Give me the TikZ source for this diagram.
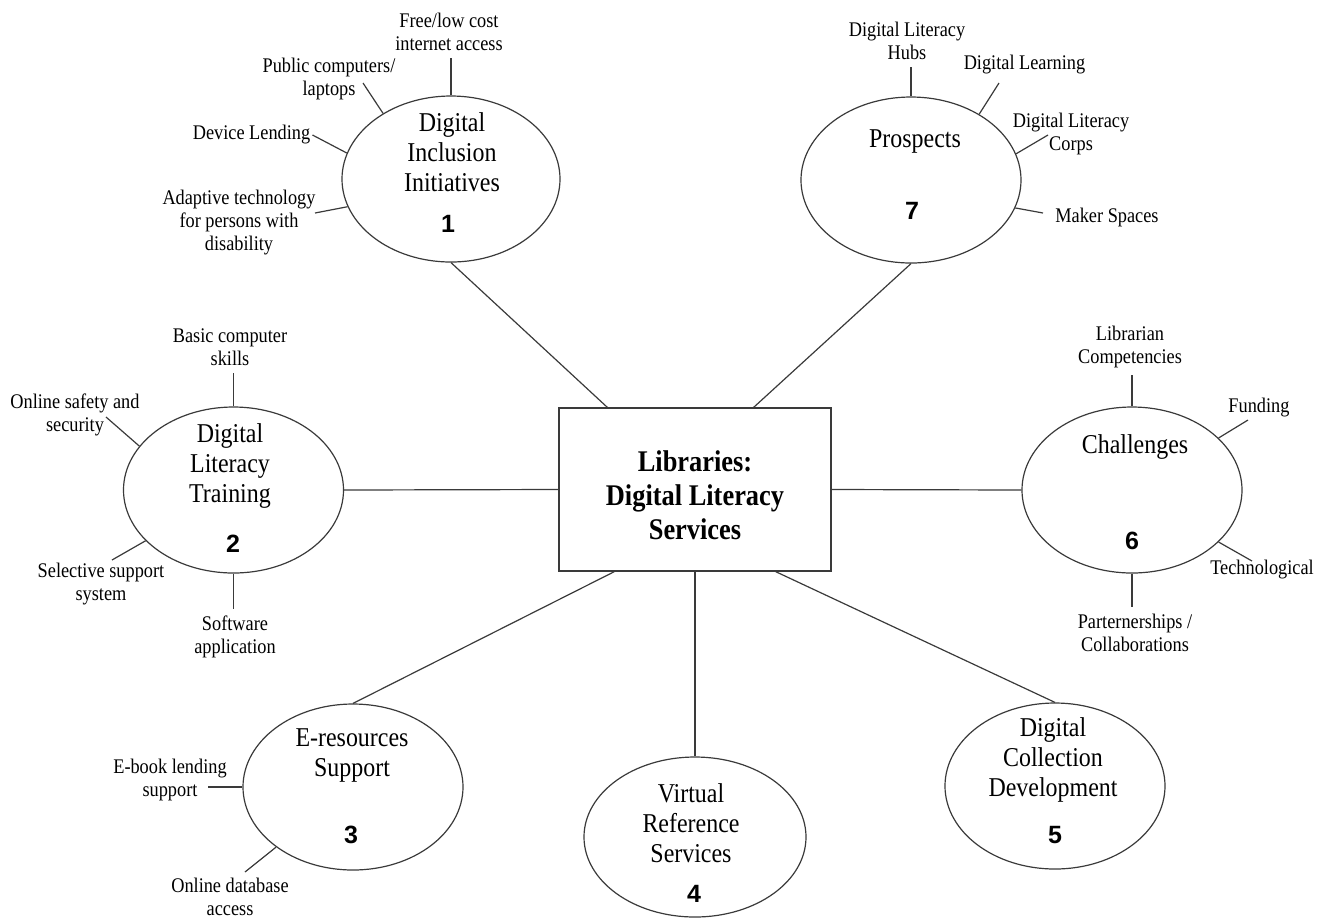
\documentclass[tikz,border=0pt]{standalone}
\usepackage{fontspec}
\setmainfont{Liberation Serif}[FakeStretch=0.88]
\newfontfamily\numfont{Liberation Sans}
\usepackage{tikz}
\usetikzlibrary{shapes.geometric}
\usepackage{xcolor}
\definecolor{inkgray}{HTML}{3A3A3A}

\begin{document}
\begin{tikzpicture}[x=0.5pt, y=-0.5pt,
    hub/.style={draw=inkgray, line width=0.6pt, minimum width=136pt, minimum height=81.5pt},
    hubtext/.style={align=center, font=\bfseries\fontsize{15}{17}\selectfont},
    topic/.style={draw=inkgray, line width=0.6pt, ellipse, minimum width=110pt, minimum height=83pt},
    topictext/.style={align=center, font=\fontsize{13.6}{15}\selectfont},
    num/.style={font=\numfont\bfseries\fontsize{12.5}{14}\selectfont},
    leaf/.style={align=center, font=\fontsize{10.4}{11.5}\selectfont},
    link/.style={draw=inkgray, line width=0.6pt}]
    \useasboundingbox (0,0) rectangle (1324,918);

    % Centre
    \node[hub] (lib) at (695,489.5) {};
    \node[hubtext] (libtxt) at (695,495) {Libraries:\\Digital Literacy\\Services};

    % Topics
    \node[topic, minimum width=109pt] (e1) at (451,179) {};
    \node[topic] (e2) at (233.5,490) {};
    \node[topic] (e3) at (353,787) {};
    \node[topic, minimum width=111pt, minimum height=80pt] (e4) at (695,837) {};
    \node[topic] (e5) at (1055,786) {};
    \node[topic] (e6) at (1132,490) {};
    \node[topic] (e7) at (911,180) {};

    \node[topictext] (t1) at (452,152) {Digital\\Inclusion\\Initiatives};
    \node[topictext] (t2) at (230,466) {Digital\\Literacy\\Training};
    \node[topictext] (t3) at (352,755) {E-resources\\Support};
    \node[topictext] (t4) at (691,823) {Virtual\\Reference\\Services};
    \node[topictext] (t5) at (1053,760) {Digital\\Collection\\Development};
    \node[topictext] (t6) at (1135,447) {Challenges};
    \node[topictext] (t7) at (915,141) {Prospects};

    \node[num] (n1) at (448,224) {1};
    \node[num] (n2) at (233,544) {2};
    \node[num] (n3) at (351,835) {3};
    \node[num] (n4) at (694,894) {4};
    \node[num] (n5) at (1055,835) {5};
    \node[num] (n6) at (1132,541) {6};
    \node[num] (n7) at (912,211) {7};

    % Spokes
    \draw[link] ([shift={(49,0)}]lib.north west) -- (e1.south);
    \draw[link] ([shift={(-78,0)}]lib.north east) -- (e7.south);
    \draw[link] (lib.west) -- (e2.east);
    \draw[link] (lib.east) -- (e6.west);
    \draw[link] ([shift={(56,0)}]lib.south west) -- (e3.north);
    \draw[link] (lib.south) -- (e4.north);
    \draw[link] ([shift={(-56,0)}]lib.south east) -- (e5.north);

    % Leaves of 1
    \node[leaf] (fl) at (449,32) {Free/low cost\\internet access};
    \node[leaf] (pc) at (329,79) {Public computers/\\laptops};
    \node[leaf] (dl) at (251.5,135) {Device Lending};
    \node[leaf] (at) at (239,223) {Adaptive technology\\for persons with\\disability};
    \draw[link] (e1.north) -- (e1.north |- fl.south);
    \draw[link] ([shift={(34,4)}]pc.center) -- (e1.136);
    \draw[link] ([shift={(61,0)}]dl.center) -- (e1.166);
    \draw[link] ([shift={(76,-10)}]at.center) -- (e1.195);

    % Leaves of 7
    \node[leaf] (hb) at (907,41) {Digital Literacy\\Hubs};
    \node[leaf] (lg) at (1024.5,65) {Digital Learning};
    \node[leaf] (cp) at (1071,134) {Digital Literacy\\Corps};
    \node[leaf] (ms) at (1107,217) {Maker Spaces};
    \draw[link] (e7.north) -- (e7.north |- hb.south);
    \draw[link] ([shift={(-25.5,18)}]lg.center) -- (e7.44);
    \draw[link] ([shift={(-23,1)}]cp.center) -- (e7.14);
    \draw[link] ([shift={(-64,-4)}]ms.center) -- (e7.-15);

    % Leaves of 2
    \node[leaf] (bs) at (230,347) {Basic computer\\skills};
    \node[leaf] (os) at (75,415) {Online safety and\\security};
    \node[leaf] (ss) at (101,584) {Selective support\\system};
    \node[leaf] (sw) at (235,637) {Software\\application};
    \draw[link] (e2.north) -- (e2.north |- bs.south);
    \draw[link] ([shift={(31,2)}]os.center) -- (e2.155);
    \draw[link] ([shift={(11,-24)}]ss.center) -- (e2.210);
    \draw[link] (e2.south) -- (e2.south |- sw.north);

    % Leaves of 6
    \node[leaf] (lc) at (1130,347) {Librarian\\Competencies};
    \node[leaf] (fd) at (1259,408) {Funding};
    \node[leaf] (tc) at (1262,570) {Technological};
    \node[leaf] (pt) at (1135,633) {Parternerships /\\Collaborations};
    \draw[link] (e6.north) -- (e6.north |- lc.south);
    \draw[link] ([shift={(-11,12)}]fd.center) -- (e6.31);
    \draw[link] ([shift={(-10,-9)}]tc.center) -- (e6.-31);
    \draw[link] (e6.south) -- (e6.south |- pt.north);

    % Leaves of 3
    \node[leaf] (eb) at (170,780) {E-book lending\\support};
    \node[leaf] (od) at (230,897) {Online database\\access};
    \draw[link] ([shift={(38,7)}]eb.center) -- (e3.west);
    \draw[link] ([shift={(15,-25)}]od.center) -- (e3.218);
\end{tikzpicture}
\end{document}
